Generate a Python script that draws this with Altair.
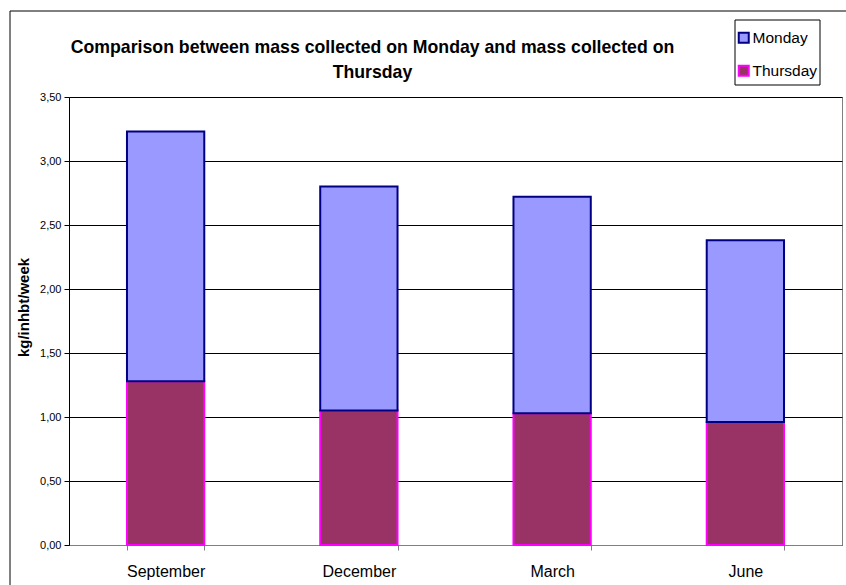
import altair as alt
import pandas as pd

# Mass collected (kg per inhabitant per week) by sampling month
months = ["September", "December", "March", "June"]
thursday = [1.28, 1.05, 1.03, 0.96]
monday = [1.95, 1.75, 1.69, 1.42]
days = ["Monday", "Thursday"]
fills = ["#9999FF", "#993366"]
strokes = ["#000080", "#FF00FF"]

rows = []
for m, t, mo in zip(months, thursday, monday):
    rows.append({"Month": m, "Day": "Thursday", "value": t, "order": 0})
    rows.append({"Month": m, "Day": "Monday", "value": mo, "order": 1})
df = pd.DataFrame(rows)

FONT = "Liberation Sans"

bars = alt.Chart(df).mark_bar(strokeWidth=2).encode(
    x=alt.X("Month:N", sort=months, title=None,
            scale=alt.Scale(paddingInner=0.6, paddingOuter=0.3),
            axis=alt.Axis(labelAngle=0, labelFontSize=16, labelFont=FONT,
                          labelColor="#000", labelPadding=13, tickBand="extent",
                          tickSize=5, tickColor="#808080", domainColor="#808080",
                          grid=False)),
    y=alt.Y("value:Q", stack="zero", title="kg/inhbt/week",
            scale=alt.Scale(domain=[0, 3.5], nice=False),
            axis=alt.Axis(values=[0, 0.5, 1, 1.5, 2, 2.5, 3, 3.5],
                          labelExpr="replace(format(datum.value, '.2f'), '.', ',')",
                          labelFontSize=11, labelFont=FONT, labelColor="#000",
                          labelPadding=3, tickSize=5, tickColor="#000",
                          domainColor="#000", gridColor="#000", gridWidth=1,
                          gridOpacity=1, titleFont=FONT, titleFontSize=15,
                          titleFontWeight="bold", titleColor="#000",
                          titlePadding=8, titleY=210)),
    fill=alt.Fill("Day:N", scale=alt.Scale(domain=days, range=fills),
                  legend=alt.Legend(title=None)),
    stroke=alt.Stroke("Day:N", scale=alt.Scale(domain=days, range=strokes),
                      legend=alt.Legend(title=None)),
    order=alt.Order("order:Q"),
)

frame_data = alt.Data(values=[{}])
top_line = alt.Chart(frame_data).mark_rule(color="#000", strokeWidth=1).encode(
    x=alt.value(-59), x2=alt.value(777), y=alt.value(-86)
)
left_line = alt.Chart(frame_data).mark_rule(color="#000", strokeWidth=1).encode(
    x=alt.value(-59), y=alt.value(-86), y2=alt.value(488)
)
# box drawn behind the legend entries
legend_box = alt.Chart(frame_data).mark_rect(
    fill="#fff", stroke="#000", strokeWidth=1
).encode(
    x=alt.value(666), x2=alt.value(751), y=alt.value(-77), y2=alt.value(-12)
)

chart = alt.layer(bars, top_line, left_line, legend_box).properties(
    width=773,
    height=448,
    padding={"left": 69, "top": 97, "right": 4, "bottom": 40},
    autosize=alt.AutoSizeParams(type="none"),
    title=alt.TitleParams(
        ["Comparison between mass collected on Monday and mass collected on", "Thursday"],
        font=FONT, fontSize=17.7, fontWeight="bold", color="#000",
        anchor="middle", dx=-83, dy=87, offset=16, lineHeight=25,
    ),
).configure_view(
    stroke="#808080", strokeWidth=1
).configure_legend(
    orient="none", legendX=667, legendY=-67,
    padding=0,
    symbolType="square", symbolSize=100, symbolStrokeWidth=2,
    labelFont=FONT, labelFontSize=15.5, labelColor="#000",
    rowPadding=14, labelOffset=1,
)

chart.save("out.html", embed_options={"renderer": "svg", "actions": False})
